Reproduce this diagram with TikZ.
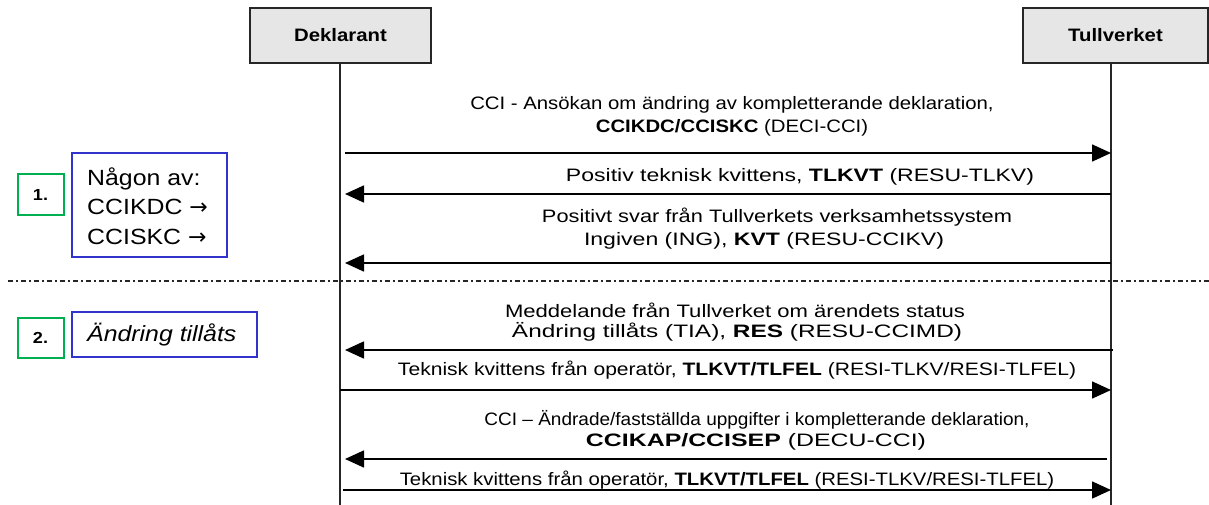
\documentclass[tikz,border=0pt]{standalone}
\usepackage{graphicx}
\usepackage{fontspec}
\setmainfont[FakeStretch=1.13]{Liberation Sans}
\newfontfamily\symfont{DejaVu Sans}
\usetikzlibrary{arrows.meta}
\definecolor{stepgreen}{RGB}{0,176,80}
\definecolor{noteblue}{RGB}{50,50,205}
\definecolor{actorfill}{RGB}{230,230,230}
\newcommand\fitw[2]{\resizebox{#1pt}{\height}{#2}}
\begin{document}
\begin{tikzpicture}[x=1pt,y=-1pt,
  actor/.style={draw=black!85, line width=2pt, fill=actorfill, minimum height=55pt, inner sep=0pt, font=\bfseries\fontsize{18}{21}\selectfont},
  lifeline/.style={line width=1.5pt, black!85},
  msg/.style={line width=1.6pt, -{Triangle[length=19pt,width=17pt]}},
  lbl/.style={inner sep=0pt, font=\fontsize{18}{21}\selectfont},
  numbox/.style={draw=stepgreen, line width=2pt, minimum width=46pt, minimum height=40pt, inner sep=0pt, font=\bfseries\fontsize{16}{18}\selectfont},
  notebox/.style={draw=noteblue, line width=1.5pt, inner sep=0pt},
  notetext/.style={inner sep=0pt, align=left, font=\fontsize{22}{29.5}\selectfont},
  separator/.style={line width=1.5pt, black!85, dash pattern=on 5pt off 3pt on 1.5pt off 3.5pt}]
\useasboundingbox (0,0) rectangle (1209,505);
% actors
\node[actor, minimum width=181pt] (dek) at (340.5,35.5) {Deklarant};
\node[actor, minimum width=185pt] (tul) at (1115.5,35.5) {Tullverket};
\coordinate (dekTop) at (340,63);
\coordinate (dekBot) at (340,505);
\coordinate (tulTop) at (1111,63);
\coordinate (tulBot) at (1111,505);
\draw[lifeline] (dekTop) -- (dekBot);
\draw[lifeline] (tulTop) -- (tulBot);
% separator
\coordinate (sepL) at (8,281);
\coordinate (sepR) at (1209,281);
\draw[separator] (sepL) -- (sepR);
% left annotations
\node[numbox] (n1) at (40.5,194.5) {1.};
\node[notebox, minimum width=155pt, minimum height=104pt] (b1) at (149.5,205) {};
\node[notetext, anchor=west] (t1) at (87,206) {Någon av:\\CCIKDC {\symfont →}\\CCISKC {\symfont →}};
\node[numbox] (n2) at (40.5,338) {2.};
\node[notebox, minimum width=185pt, minimum height=45pt] (b2) at (164.5,334.5) {};
\node[notetext, anchor=west] (t2) at (87,335) {\itshape Ändring tillåts};
% message 1
\node[lbl] (l1a) at (732,105) {CCI - Ansökan om ändring av kompletterande deklaration,};
\node[lbl] (l1b) at (732,128) {\textbf{CCIKDC/CCISKC} (DECI-CCI)};
\coordinate (m1s) at (345,153);
\coordinate (m1e) at (1111,153);
\draw[msg] (m1s) -- (m1e);
% message 2
\node[lbl] (l2) at (800,177) {\fitw{468}{Positiv teknisk kvittens, \textbf{TLKVT} (RESU-TLKV)}};
\coordinate (m2s) at (1111,194);
\coordinate (m2e) at (345,194);
\draw[msg] (m2s) -- (m2e);
% message 3
\node[lbl] (l3a) at (777,217) {\fitw{470}{Positivt svar från Tullverkets verksamhetssystem}};
\node[lbl] (l3b) at (764,241) {\fitw{360}{Ingiven (ING), \textbf{KVT} (RESU-CCIKV)}};
\coordinate (m3s) at (1111,263);
\coordinate (m3e) at (345,263);
\draw[msg] (m3s) -- (m3e);
% message 4
\node[lbl] (l4a) at (735,310) {\fitw{460}{Meddelande från Tullverket om ärendets status}};
\node[lbl] (l4b) at (737,332) {\fitw{450}{Ändring tillåts (TIA), \textbf{RES} (RESU-CCIMD)}};
\coordinate (m4s) at (1113,350);
\coordinate (m4e) at (345,350);
\draw[msg] (m4s) -- (m4e);
% message 5
\node[lbl] (l5) at (737,370) {\fitw{678}{Teknisk kvittens från operatör, \textbf{TLKVT/TLFEL} (RESI-TLKV/RESI-TLFEL)}};
\coordinate (m5s) at (340,390);
\coordinate (m5e) at (1111,390);
\draw[msg] (m5s) -- (m5e);
% message 6
\node[lbl] (l6a) at (757,420) {\fitw{545}{CCI – Ändrade/fastställda uppgifter i kompletterande deklaration,}};
\node[lbl] (l6b) at (756,442) {\fitw{340}{\textbf{CCIKAP/CCISEP} (DECU-CCI)}};
\coordinate (m6s) at (1107,459);
\coordinate (m6e) at (345,459);
\draw[msg] (m6s) -- (m6e);
% message 7
\node[lbl] (l7) at (727,480) {Teknisk kvittens från operatör, \textbf{TLKVT/TLFEL} (RESI-TLKV/RESI-TLFEL)};
\coordinate (m7s) at (343,490);
\coordinate (m7e) at (1111,490);
\draw[msg] (m7s) -- (m7e);
\end{tikzpicture}
\end{document}
